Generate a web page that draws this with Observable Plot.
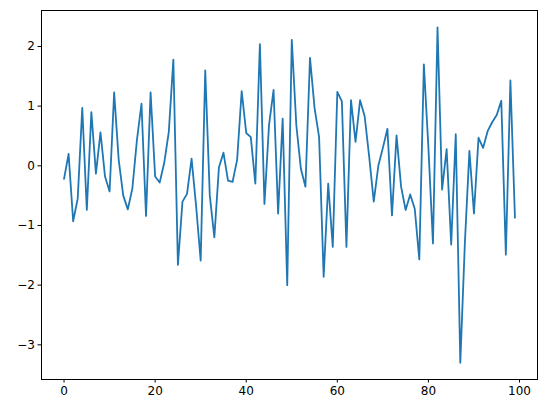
<!DOCTYPE html>
<html><head><meta charset="utf-8">
<script src="https://cdn.jsdelivr.net/npm/d3@7"></script>
<script src="https://cdn.jsdelivr.net/npm/@observablehq/plot@0.6"></script>
<style>body{margin:0;background:#fff}</style>
</head><body><div id="chart"></div>
<script>
const values = [-0.22,0.2,-0.93,-0.55,0.97,-0.74,0.9,-0.13,0.56,-0.18,
-0.43,1.23,0.1,-0.5,-0.73,-0.38,0.43,1.04,-0.84,1.23,
-0.18,-0.28,0.05,0.57,1.78,-1.66,-0.6,-0.47,0.12,-0.68,
-1.59,1.6,-0.5,-1.2,-0.03,0.22,-0.25,-0.27,0.1,1.25,
0.55,0.48,-0.3,2.04,-0.64,0.68,1.27,-0.8,0.79,-2.0,
2.11,0.68,-0.05,-0.35,1.81,0.97,0.48,-1.86,-0.3,-1.36,
1.24,1.08,-1.36,1.1,0.4,1.1,0.83,0.15,-0.6,0.0,
0.3,0.62,-0.83,0.51,-0.35,-0.74,-0.48,-0.72,-1.57,1.7,
0.3,-1.3,2.32,-0.4,0.28,-1.32,0.53,-3.3,-1.3,0.25,
-0.8,0.47,0.3,0.58,0.73,0.85,1.09,-1.49,1.43,-0.87];
const xTicks = [0,20,40,60,80,100];
const yTicks = [-3,-2,-1,0,1,2];
const data = values.map((v,i)=>({x:i,y:v}));
const fmt = d => String(d).replace("-", "\u2212");
const chart = Plot.plot({
  width: 546, height: 413,
  marginLeft: 41, marginRight: 9, marginTop: 10, marginBottom: 34,
  style: {fontFamily: "DejaVu Sans", fontSize: "12px", color: "#000", background: "#fff"},
  x: {domain: [-4.95, 103.95]},
  y: {domain: [-3.581, 2.6025]},
  marks: [
    Plot.lineY(data, {x: "x", y: "y", stroke: "#1f77b4", strokeWidth: 1.8}),
    Plot.frame({stroke: "#000", strokeWidth: 1}),
    Plot.axisX({ticks: xTicks, tickSize: 3.5, tickPadding: 3, tickFormat: fmt, label: null, fontSize: 12, stroke: "#000"}),
    Plot.axisY({ticks: yTicks, tickSize: 3.5, tickPadding: 3, tickFormat: fmt, label: null, fontSize: 12, stroke: "#000"})
  ]
});
document.getElementById("chart").appendChild(chart);
</script>
</body></html>
